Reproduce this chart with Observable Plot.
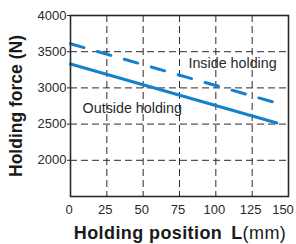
<!DOCTYPE html>
<html>
<head>
<meta charset="utf-8">
<script src="https://cdn.jsdelivr.net/npm/d3@7"></script>
<script src="https://cdn.jsdelivr.net/npm/@observablehq/plot@0.6"></script>
<style>
  html, body { margin: 0; padding: 0; background: #fff; }
  svg { font-family: "Liberation Sans", Arial, sans-serif; }
</style>
</head>
<body>
<div id="chart"></div>
<script>
const positions = [0, 142];
const outsideForce = [3330, 2515];
const insideForce = [3610, 2790];
const xTicks = [0, 25, 50, 75, 100, 125, 150];
const yTicks = [2000, 2500, 3000, 3500, 4000];
const labels = [
  {name: "Inside holding", x: 111.5, y: 3337},
  {name: "Outside holding", x: 42.5, y: 2715}
];

const outside = positions.map((p, i) => ({x: p, y: outsideForce[i]}));
const inside = positions.map((p, i) => ({x: p, y: insideForce[i]}));

const blue = "#1580cc";
const dark = "#2a2a2a";

const chart = Plot.plot({
  width: 296,
  height: 244,
  marginLeft: 70,
  marginRight: 8,
  marginTop: 15,
  marginBottom: 48,
  style: {fontFamily: "'Liberation Sans', Arial, sans-serif", fontSize: "13px", color: dark, background: "#fff"},
  x: {domain: [0, 150], label: null},
  y: {domain: [1500, 4000], label: null},
  marks: [
    Plot.gridX(xTicks.slice(1, -1), {stroke: dark, strokeOpacity: 1, strokeWidth: 1, strokeDasharray: "7,4"}),
    Plot.gridY(yTicks.slice(0, -1), {stroke: dark, strokeOpacity: 1, strokeWidth: 1, strokeDasharray: "7,4"}),
    Plot.line(outside, {x: "x", y: "y", stroke: blue, strokeWidth: 3}),
    Plot.line(inside, {x: "x", y: "y", stroke: blue, strokeWidth: 3, strokeDasharray: "14,14"}),
    Plot.text(labels, {x: "x", y: "y", text: "name", fontSize: 14.3, fill: dark}),
    Plot.frame({stroke: dark, strokeWidth: 1.6}),
    Plot.axisX({ticks: xTicks, tickFormat: d => String(d), tickSize: 0, tickPadding: 8, dx: -1.5, fontSize: 13, fill: dark, label: null}),
    Plot.axisY({ticks: yTicks, tickFormat: d => String(d), tickSize: 3, tickPadding: 1, fontSize: 13, fill: dark, stroke: dark, label: null})
  ]
});

const svg = d3.select(chart);
// nudge the last x tick label inside the picture, as in the reference
const xLabels = svg.selectAll("g[aria-label='x-axis tick label'] text");
xLabels.filter((d, i, n) => i === n.length - 1).attr("dx", -4);

svg.append("text")
  .attr("transform", "translate(22,106) rotate(-90)")
  .attr("text-anchor", "middle")
  .attr("font-size", 17.5)
  .attr("font-weight", "bold")
  .attr("fill", "#1a1a1a")
  .text("Holding force (N)");
const xl = svg.append("text")
  .attr("x", 180)
  .attr("y", 239)
  .attr("text-anchor", "middle")
  .attr("font-size", 18)
  .attr("letter-spacing", 0.4)
  .attr("fill", "#1a1a1a");
xl.append("tspan").attr("font-weight", "bold").text("Holding position");
xl.append("tspan").attr("font-weight", "bold").attr("dx", 9).text("L");
xl.append("tspan").text("(mm)");

document.getElementById("chart").appendChild(chart);
</script>
</body>
</html>
